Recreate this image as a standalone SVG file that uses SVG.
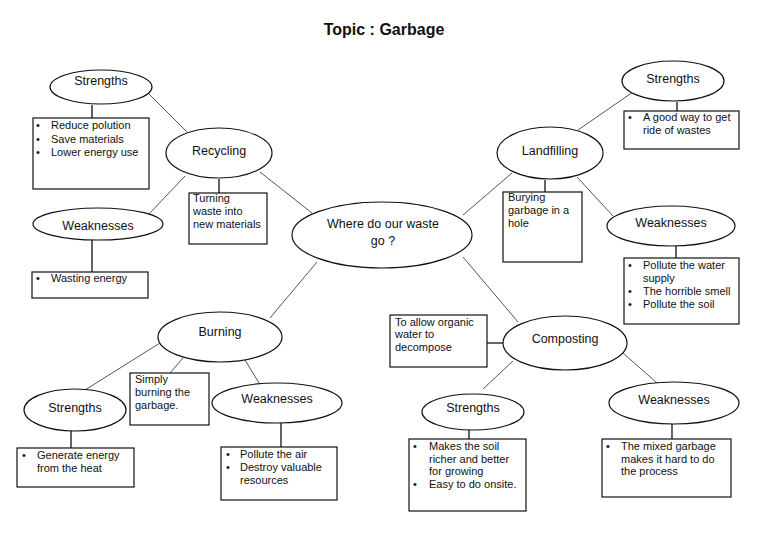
<svg xmlns="http://www.w3.org/2000/svg" width="768" height="543" viewBox="0 0 768 543">
<style>
text{font-family:"Liberation Sans",Arial,sans-serif;fill:#111}
.title{font-size:16px;font-weight:bold;text-anchor:middle}
.lbl{font-size:12.5px;text-anchor:middle}
.t{font-size:11px}
ellipse{fill:#fff;stroke:#111;stroke-width:1.2}
rect{fill:#fff;stroke:#111;stroke-width:1.2}
.d line{stroke:#555;stroke-width:1}
.v line{stroke:#111;stroke-width:1.3}
</style>
<rect x="0" y="0" width="768" height="543" style="stroke:none;fill:#fff"/>
<text class="title" x="384" y="35">Topic : Garbage</text>

<g id="connectors">
<g class="d">
<line x1="148" y1="93" x2="187" y2="132"/>
<line x1="185" y1="176" x2="149" y2="214"/>
<line x1="260" y1="172" x2="312" y2="213"/>
<line x1="578" y1="130" x2="633" y2="92"/>
<line x1="577" y1="177" x2="613" y2="216"/>
<line x1="463" y1="215" x2="512" y2="173"/>
<line x1="317" y1="262" x2="270" y2="318"/>
<line x1="160" y1="343" x2="85" y2="390"/>
<line x1="183" y1="358" x2="170" y2="373"/>
<line x1="245" y1="360" x2="259" y2="383"/>
<line x1="463" y1="257" x2="518" y2="322"/>
<line x1="513" y1="361" x2="483" y2="389"/>
<line x1="623" y1="353" x2="657" y2="383"/>
</g>
<g class="v">
<line x1="92" y1="105" x2="92" y2="118"/>
<line x1="219" y1="179" x2="219" y2="193"/>
<line x1="92" y1="240" x2="92" y2="272"/>
<line x1="677" y1="102" x2="677" y2="111"/>
<line x1="545" y1="180" x2="545" y2="192"/>
<line x1="676" y1="246" x2="676" y2="258"/>
<line x1="281" y1="423" x2="281" y2="447"/>
<line x1="71" y1="431" x2="71" y2="448"/>
<line x1="487" y1="343" x2="503" y2="343"/>
<line x1="469" y1="430" x2="469" y2="439"/>
<line x1="672" y1="424" x2="672" y2="439"/>
</g>
</g>

<g id="center">
<ellipse cx="382" cy="235" rx="90" ry="33"/>
<text class="lbl" x="383" y="228">Where do our waste</text>
<text class="lbl" x="383" y="245">go ?</text>
</g>

<g id="recycling">
<ellipse cx="219" cy="153" rx="53" ry="25"/>
<text class="lbl" x="219" y="155">Recycling</text>
</g>
<g id="recycling-strengths">
<ellipse cx="101" cy="87" rx="51" ry="17"/>
<text class="lbl" x="101" y="85">Strengths</text>
</g>
<g id="recycling-strengths-box">
<rect x="33" y="118" width="116" height="71"/>
<text class="t" x="36" y="129">•</text><text class="t" x="51" y="129">Reduce polution</text>
<text class="t" x="36" y="143">•</text><text class="t" x="51" y="143">Save materials</text>
<text class="t" x="36" y="156">•</text><text class="t" x="51" y="156">Lower energy use</text>
</g>
<g id="recycling-weaknesses">
<ellipse cx="98" cy="224" rx="65" ry="16"/>
<text class="lbl" x="98" y="229.5">Weaknesses</text>
</g>
<g id="recycling-weaknesses-box">
<rect x="32" y="272" width="116" height="26"/>
<text class="t" x="36" y="282">•</text><text class="t" x="51" y="282">Wasting energy</text>
</g>
<g id="recycling-desc">
<rect x="189" y="193" width="78" height="51"/>
<text class="t" x="193" y="202">Turning</text>
<text class="t" x="193" y="215">waste into</text>
<text class="t" x="193" y="228">new materials</text>
</g>

<g id="landfilling">
<ellipse cx="550" cy="153" rx="53" ry="26"/>
<text class="lbl" x="550" y="154.5">Landfilling</text>
</g>
<g id="landfilling-strengths">
<ellipse cx="673" cy="81" rx="51" ry="20"/>
<text class="lbl" x="673" y="82.5">Strengths</text>
</g>
<g id="landfilling-strengths-box">
<rect x="624" y="111" width="115" height="38"/>
<text class="t" x="628" y="121">•</text><text class="t" x="643" y="121">A good way to get</text>
<text class="t" x="643" y="134">ride of wastes</text>
</g>
<g id="landfilling-desc">
<rect x="503" y="192" width="79" height="70"/>
<text class="t" x="508" y="201">Burying</text>
<text class="t" x="508" y="214">garbage in a</text>
<text class="t" x="508" y="227">hole</text>
</g>
<g id="landfilling-weaknesses">
<ellipse cx="671" cy="226" rx="64" ry="20"/>
<text class="lbl" x="671" y="226.5">Weaknesses</text>
</g>
<g id="landfilling-weaknesses-box">
<rect x="624" y="258" width="115" height="66"/>
<text class="t" x="628" y="269">•</text><text class="t" x="643" y="269">Pollute the water</text>
<text class="t" x="643" y="281.5">supply</text>
<text class="t" x="628" y="294.5">•</text><text class="t" x="643" y="294.5">The horrible smell</text>
<text class="t" x="628" y="307.5">•</text><text class="t" x="643" y="307.5">Pollute the soil</text>
</g>

<g id="burning">
<ellipse cx="220" cy="337" rx="62" ry="25"/>
<text class="lbl" x="220" y="335.5">Burning</text>
</g>
<g id="burning-desc">
<rect x="130" y="373" width="79" height="52"/>
<text class="t" x="135" y="383">Simply</text>
<text class="t" x="135" y="396">burning the</text>
<text class="t" x="135" y="409">garbage.</text>
</g>
<g id="burning-strengths">
<ellipse cx="75" cy="410" rx="51" ry="21"/>
<text class="lbl" x="75" y="411.5">Strengths</text>
</g>
<g id="burning-strengths-box">
<rect x="17" y="448" width="117" height="39"/>
<text class="t" x="22" y="459">•</text><text class="t" x="37" y="459">Generate energy</text>
<text class="t" x="37" y="472">from the heat</text>
</g>
<g id="burning-weaknesses">
<ellipse cx="277" cy="403" rx="65" ry="20"/>
<text class="lbl" x="277" y="402.5">Weaknesses</text>
</g>
<g id="burning-weaknesses-box">
<rect x="221" y="447" width="116" height="53"/>
<text class="t" x="226" y="458">•</text><text class="t" x="240" y="458">Pollute the air</text>
<text class="t" x="226" y="471">•</text><text class="t" x="240" y="471">Destroy valuable</text>
<text class="t" x="240" y="484">resources</text>
</g>

<g id="composting">
<ellipse cx="565" cy="343" rx="62" ry="27"/>
<text class="lbl" x="565" y="342.5">Composting</text>
</g>
<g id="composting-desc">
<rect x="390" y="315" width="97" height="52"/>
<text class="t" x="395" y="326">To allow organic</text>
<text class="t" x="395" y="338">water to</text>
<text class="t" x="395" y="351">decompose</text>
</g>
<g id="composting-strengths">
<ellipse cx="473" cy="412" rx="51" ry="18"/>
<text class="lbl" x="473" y="411.5">Strengths</text>
</g>
<g id="composting-strengths-box">
<rect x="409" y="439" width="117" height="72"/>
<text class="t" x="413" y="450">•</text><text class="t" x="429" y="450">Makes the soil</text>
<text class="t" x="429" y="462.5">richer and better</text>
<text class="t" x="429" y="475">for growing</text>
<text class="t" x="413" y="488">•</text><text class="t" x="429" y="488">Easy to do onsite.</text>
</g>
<g id="composting-weaknesses">
<ellipse cx="674" cy="403" rx="65" ry="21"/>
<text class="lbl" x="674" y="403.5">Weaknesses</text>
</g>
<g id="composting-weaknesses-box">
<rect x="602" y="439" width="129" height="58"/>
<text class="t" x="606" y="450">•</text><text class="t" x="621" y="450">The mixed garbage</text>
<text class="t" x="621" y="463">makes it hard to do</text>
<text class="t" x="621" y="475">the process</text>
</g>
</svg>
